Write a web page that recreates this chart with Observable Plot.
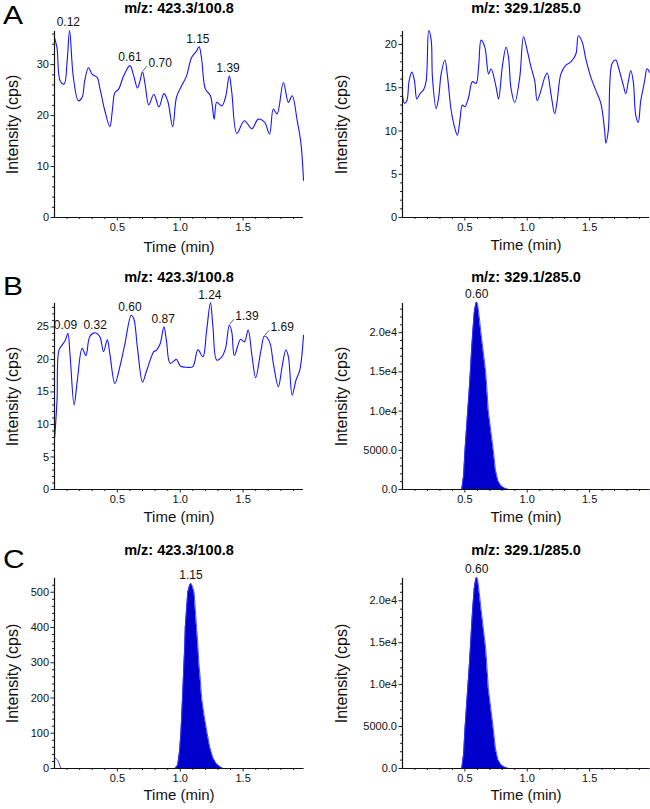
<!DOCTYPE html>
<html>
<head>
<meta charset="utf-8">
<script src="https://cdn.jsdelivr.net/npm/d3@7"></script>
<script src="https://cdn.jsdelivr.net/npm/@observablehq/plot@0.6"></script>
<style>
  html, body { margin: 0; padding: 0; background: #fff; }
  #page { position: relative; width: 650px; height: 809px; overflow: hidden; font-family: "Liberation Sans", Arial, sans-serif; color: #111; }
  .slot { position: absolute; }
  .letter { position: absolute; font-size: 25px; line-height: 28px; transform: scaleX(1.2); transform-origin: left top; color: #000; }
</style>
</head>
<body>
<div id="page"></div>
<script>
// ---------- DATA ----------
const panelLetters = ["A", "B", "C"];
const titleLeft = "m/z: 423.3/100.8";
const titleRight = "m/z: 329.1/285.0";
const xLabel = "Time (min)";
const yLabel = "Intensity (cps)";
const xTickValues = [0.5, 1.0, 1.5];

// Panel A, left (m/z 423.3/100.8) – noise trace
const aLeftTime = [0, 0.02, 0.045, 0.077, 0.10, 0.12, 0.15, 0.19, 0.22, 0.24, 0.27, 0.30, 0.34, 0.36, 0.40, 0.44, 0.46, 0.48, 0.51, 0.55, 0.60, 0.63, 0.66, 0.68, 0.70, 0.72, 0.75, 0.79, 0.83, 0.87, 0.90, 0.94, 0.97, 1.01, 1.05, 1.09, 1.13, 1.15, 1.17, 1.20, 1.24, 1.27, 1.29, 1.33, 1.36, 1.39, 1.41, 1.45, 1.51, 1.57, 1.62, 1.67, 1.71, 1.74, 1.77, 1.82, 1.86, 1.89, 1.93, 1.96, 1.98];
const aLeftInt  = [35.3, 33.3, 26.8, 26.2, 30.5, 36.7, 27.5, 22.9, 23.6, 26.8, 29.4, 28.1, 27.5, 25.5, 21.0, 17.8, 21.0, 24.5, 25.2, 27.8, 29.8, 27.8, 25.4, 26.8, 28.6, 26.2, 22.1, 24.2, 21.7, 24.3, 22.9, 17.8, 23.6, 25.8, 27.8, 31.4, 32.7, 33.5, 31.1, 25.2, 23.9, 19.3, 22.6, 21.9, 23.6, 27.8, 24.5, 16.5, 19.0, 17.4, 19.3, 18.7, 16.4, 21.3, 20.3, 26.5, 22.6, 23.9, 19.0, 14.5, 7.3];
const aLeftPeakTime  = [0.11, 0.60, 1.14, 1.38];
const aLeftPeakInt   = [36.7, 29.8, 33.5, 27.8];
const aLeftPeakText  = ["0.12", "0.61", "1.15", "1.39"];
const aLeftLeadTime  = [0.70];
const aLeftLeadInt   = [28.6];
const aLeftLeadText  = ["0.70"];

// Panel A, right (m/z 329.1/285.0) – noise trace
const aRightTime = [0, 0.016, 0.035, 0.053, 0.075, 0.096, 0.115, 0.14, 0.17, 0.19, 0.21, 0.23, 0.24, 0.27, 0.29, 0.31, 0.34, 0.36, 0.39, 0.42, 0.44, 0.46, 0.48, 0.50, 0.53, 0.56, 0.59, 0.61, 0.63, 0.66, 0.69, 0.71, 0.75, 0.77, 0.80, 0.83, 0.85, 0.87, 0.90, 0.94, 0.97, 1.00, 1.03, 1.06, 1.08, 1.11, 1.14, 1.16, 1.19, 1.22, 1.24, 1.27, 1.31, 1.35, 1.39, 1.41, 1.44, 1.47, 1.51, 1.55, 1.59, 1.62, 1.63, 1.65, 1.68, 1.71, 1.73, 1.77, 1.79, 1.81, 1.83, 1.85, 1.87, 1.89, 1.91, 1.94, 1.96, 1.98];
const aRightInt  = [14.1, 13.2, 13.5, 15.8, 16.8, 15.8, 13.7, 14.3, 14.8, 15.8, 21.6, 20.5, 16.2, 12.6, 13.9, 16.6, 18.2, 16.4, 12.4, 10.3, 9.5, 11.2, 13.0, 12.8, 13.9, 15.7, 15.5, 17.4, 20.5, 19.7, 16.6, 17.2, 15.1, 13.7, 17.4, 19.7, 18.5, 14.9, 13.3, 16.2, 20.9, 19.3, 17.4, 15.8, 13.5, 14.7, 16.2, 16.7, 14.3, 12.0, 13.5, 16.6, 17.6, 18.0, 18.9, 21.0, 20.3, 18.3, 16.2, 14.7, 13.2, 10.1, 8.6, 10.1, 17.8, 18.2, 17.4, 15.3, 14.3, 15.7, 17.0, 15.7, 11.8, 11.0, 13.5, 15.7, 17.2, 16.8];

// Panel B, left – noise trace
const bLeftTime = [0.002, 0.02, 0.035, 0.06, 0.085, 0.106, 0.124, 0.156, 0.18, 0.22, 0.25, 0.28, 0.32, 0.36, 0.39, 0.42, 0.44, 0.48, 0.52, 0.56, 0.61, 0.63, 0.66, 0.70, 0.73, 0.79, 0.81, 0.84, 0.87, 0.89, 0.92, 0.97, 1.00, 1.05, 1.10, 1.14, 1.18, 1.21, 1.24, 1.26, 1.29, 1.33, 1.36, 1.39, 1.41, 1.43, 1.48, 1.51, 1.54, 1.57, 1.60, 1.64, 1.67, 1.71, 1.74, 1.78, 1.81, 1.84, 1.86, 1.89, 1.92, 1.95, 1.98];
const bLeftInt  = [8.1, 13.7, 21.4, 22.2, 22.9, 24.0, 20.6, 13.0, 16.5, 21.7, 20.6, 23.5, 24.1, 23.5, 21.2, 23.0, 20.9, 16.3, 18.9, 22.4, 26.8, 26.3, 21.7, 16.5, 18.1, 21.2, 21.4, 22.4, 25.0, 22.9, 19.4, 20.0, 19.0, 18.8, 18.9, 21.5, 20.4, 24.5, 28.7, 25.0, 19.9, 20.4, 21.7, 25.3, 24.2, 20.6, 23.1, 22.7, 24.5, 20.6, 17.2, 21.2, 23.6, 22.7, 19.4, 15.8, 18.9, 21.5, 20.4, 14.5, 16.8, 18.3, 23.7];
const bLeftPeakTime = [0.087, 0.323, 0.60, 0.865, 1.235];
const bLeftPeakInt  = [24.0, 24.1, 26.8, 25.0, 28.7];
const bLeftPeakText = ["0.09", "0.32", "0.60", "0.87", "1.24"];
const bLeftLeadTime = [1.39, 1.67];
const bLeftLeadInt  = [25.3, 23.6];
const bLeftLeadText = ["1.39", "1.69"];

// Panel B, right – internal standard peak
const bRightTime = [0, 0.475, 0.49, 0.501, 0.512, 0.523, 0.534, 0.544, 0.553, 0.563, 0.575, 0.587, 0.595, 0.603, 0.615, 0.629, 0.648, 0.667, 0.678, 0.688, 0.708, 0.728, 0.745, 0.765, 0.79, 0.82, 0.85, 1.98];
const bRightInt  = [0, 0, 1800, 5000, 7500, 10000, 12500, 15000, 17500, 20000, 22500, 23700, 23900, 23600, 22000, 20000, 17500, 15000, 12500, 10000, 7500, 5000, 2500, 1100, 450, 150, 0, 0];
const bRightPeakTime = [0.595];
const bRightPeakInt  = [23900];
const bRightPeakText = ["0.60"];

// Panel C, left – analyte peak (with a tiny trace at the start of the run)
const cLeftTime = [0, 0.03, 0.05, 0.96, 0.98, 0.995, 1.005, 1.012, 1.018, 1.024, 1.03, 1.036, 1.04, 1.05, 1.06, 1.075, 1.085, 1.095, 1.11, 1.12, 1.13, 1.14, 1.148, 1.16, 1.17, 1.19, 1.214, 1.235, 1.26, 1.29, 1.32, 1.34, 1.98];
const cLeftInt  = [32, 21, 0, 0, 10, 50, 100, 150, 200, 250, 300, 350, 400, 450, 500, 520, 525, 518, 500, 450, 400, 350, 300, 250, 200, 150, 100, 60, 30, 12, 4, 0, 0];
const cLeftPeakTime = [1.085];
const cLeftPeakInt  = [525];
const cLeftPeakText = ["1.15"];

// Panel C, right – internal standard peak
const cRightTime = [0, 0.475, 0.49, 0.501, 0.512, 0.523, 0.534, 0.544, 0.553, 0.563, 0.575, 0.587, 0.595, 0.603, 0.615, 0.629, 0.648, 0.667, 0.678, 0.688, 0.708, 0.728, 0.745, 0.765, 0.79, 0.82, 0.85, 1.98];
const cRightInt  = [0, 0, 1700, 4750, 7150, 9550, 11900, 14300, 16700, 19100, 21450, 22600, 22800, 22500, 21000, 19100, 16700, 14300, 11900, 9550, 7150, 4750, 2400, 1050, 430, 140, 0, 0];
const cRightPeakTime = [0.595];
const cRightPeakInt  = [22800];
const cRightPeakText = ["0.60"];

// Axis extents / ticks
const xMax = 1.98;
const aLeftYMax = 36.5,  aLeftYTicks = [0, 10, 20, 30],          aLeftYStep = 2;
const aRightYMax = 21.5, aRightYTicks = [0, 5, 10, 15, 20],      aRightYStep = 1;
const bLeftYMax = 28.6,  bLeftYTicks = [0, 5, 10, 15, 20, 25],   bLeftYStep = 1;
const bRightYMax = 23720, bRightYTicks = [0, 5000, 10000, 15000, 20000], bRightYStep = 1000;
const cLeftYMax = 539,   cLeftYTicks = [0, 100, 200, 300, 400, 500], cLeftYStep = 20;
const cRightYMax = 22650, cRightYTicks = [0, 5000, 10000, 15000, 20000], cRightYStep = 1000;

// ---------- RENDER ----------
const FONT = "'Liberation Sans', Arial, sans-serif";
const LINE_BLUE = "#1414ff";
const FILL_BLUE = "#0000cc";

const sciFormat = v => v === 0 ? "0.0" : v < 10000 ? v.toFixed(1) : d3.format(".1e")(v).replace("+", "");

function zip(ts, vs, txt) { return ts.map((t, i) => ({t, v: vs[i], text: txt ? txt[i] : null})); }

function panel(cfg) {
  const series = zip(cfg.time, cfg.int);
  const peaks = zip(cfg.peakTime || [], cfg.peakInt || [], cfg.peakText || []);
  const leads = zip(cfg.leadTime || [], cfg.leadInt || [], cfg.leadText || []);
  const yMinor = d3.range(0, cfg.yMax + 1e-9, cfg.yStep).filter(v => !cfg.yTicks.includes(v));
  const xMinor = d3.range(1, 20).map(i => i / 10).filter(v => v <= xMax && !xTickValues.some(t => Math.abs(t - v) < 1e-9));
  const marks = [];
  if (cfg.kind === "area") {
    // the filled peak region; the tiny trace at the very start of the run is drawn as a line only
    const peakPart = series.filter(d => d.t >= 0.4);
    marks.push(Plot.areaY(peakPart, {x: "t", y: "v", fill: FILL_BLUE, curve: "linear"}));
    marks.push(Plot.lineY(series, {x: "t", y: "v", stroke: "#3a3aff", strokeWidth: 0.9, curve: "linear"}));
  } else {
    marks.push(Plot.lineY(series, {x: "t", y: "v", stroke: LINE_BLUE, strokeWidth: 1.1, curve: "catmull-rom"}));
  }
  marks.push(
    Plot.axisY({ticks: yMinor, tickSize: 2, tickFormat: () => "", label: null, stroke: "#222"}),
    Plot.axisY({ticks: cfg.yTicks, tickSize: 3.5, tickPadding: 2, tickFormat: cfg.yFormat, label: null, fontSize: 11, stroke: "#222"}),
    Plot.axisX({ticks: xMinor, tickSize: 2, tickFormat: () => "", label: null, stroke: "#222"}),
    Plot.axisX({ticks: xTickValues, tickSize: 3.5, tickPadding: 2, tickFormat: d3.format(".1f"), label: null, fontSize: 11, stroke: "#222"}),
    Plot.ruleX([0], {stroke: "#111", strokeWidth: 1.2}),
    Plot.ruleY([0], {stroke: "#111", strokeWidth: 1.2}),
    Plot.text(peaks, {x: "t", y: "v", text: "text", dy: -8, lineAnchor: "middle", fontSize: 12, fill: "#111"}),
    Plot.link(leads, {x1: d => d.t + 0.004, y1: d => d.v + cfg.yMax * 0.005, x2: d => d.t + 0.035, y2: d => d.v + cfg.yMax * 0.03, stroke: "#333", strokeWidth: 0.8}),
    Plot.text(leads, {x: "t", y: "v", text: "text", dx: 6, dy: -9, textAnchor: "start", lineAnchor: "middle", fontSize: 12, fill: "#111"}),
    Plot.text([cfg.title], {text: d => d, frameAnchor: "top", dy: cfg.titleDy, lineAnchor: "middle", fontWeight: "bold", fontSize: 14.5, fill: "#000"}),
    Plot.text([xLabel], {text: d => d, frameAnchor: "bottom", dy: cfg.xLabelDy, lineAnchor: "middle", fontSize: 15, fill: "#111"}),
    Plot.text([yLabel], {text: d => d, frameAnchor: "left", rotate: -90, dx: cfg.yLabelDx, lineAnchor: "middle", textAnchor: "middle", fontSize: 16, fill: "#111"})
  );
  const svg = Plot.plot({
    width: 325,
    height: cfg.height,
    marginLeft: cfg.mLeft,
    marginRight: cfg.mRight,
    marginTop: cfg.mTop,
    marginBottom: cfg.mBottom,
    x: {domain: [0, xMax]},
    y: {domain: [0, cfg.yMax]},
    style: {fontFamily: FONT, fontSize: "11px", color: "#111", background: "transparent", overflow: "visible"},
    marks
  });
  const slot = document.createElement("div");
  slot.className = "slot";
  slot.style.left = cfg.left + "px";
  slot.style.top = cfg.top + "px";
  slot.appendChild(svg);
  document.getElementById("page").appendChild(slot);
}

const rows = [
  {top: 0,   height: 260, mTop: 31, mBottom: 43, titleDy: -23, xLabelDy: 30},
  {top: 260, height: 265, mTop: 43, mBottom: 36, titleDy: -26, xLabelDy: 28},
  {top: 530, height: 279, mTop: 48, mBottom: 41, titleDy: -28, xLabelDy: 27}
];
const leftCol  = {left: 0,   mLeft: 54, mRight: 22, yLabelDx: -42, title: titleLeft};
const rightCol = {left: 325, mLeft: 77, mRight: 1,  yLabelDx: -61, title: titleRight};

panel({...rows[0], ...leftCol, kind: "line", time: aLeftTime, int: aLeftInt, yMax: aLeftYMax, yTicks: aLeftYTicks, yStep: aLeftYStep, yFormat: d3.format("d"),
  peakTime: aLeftPeakTime, peakInt: aLeftPeakInt, peakText: aLeftPeakText, leadTime: aLeftLeadTime, leadInt: aLeftLeadInt, leadText: aLeftLeadText});
panel({...rows[0], ...rightCol, xLabelDy: 28, kind: "line", time: aRightTime, int: aRightInt, yMax: aRightYMax, yTicks: aRightYTicks, yStep: aRightYStep, yFormat: d3.format("d")});
panel({...rows[1], ...leftCol, kind: "line", time: bLeftTime, int: bLeftInt, yMax: bLeftYMax, yTicks: bLeftYTicks, yStep: bLeftYStep, yFormat: d3.format("d"),
  peakTime: bLeftPeakTime, peakInt: bLeftPeakInt, peakText: bLeftPeakText, leadTime: bLeftLeadTime, leadInt: bLeftLeadInt, leadText: bLeftLeadText});
panel({...rows[1], ...rightCol, kind: "area", time: bRightTime, int: bRightInt, yMax: bRightYMax, yTicks: bRightYTicks, yStep: bRightYStep, yFormat: sciFormat,
  peakTime: bRightPeakTime, peakInt: bRightPeakInt, peakText: bRightPeakText});
panel({...rows[2], ...leftCol, kind: "area", time: cLeftTime, int: cLeftInt, yMax: cLeftYMax, yTicks: cLeftYTicks, yStep: cLeftYStep, yFormat: d3.format("d"),
  peakTime: cLeftPeakTime, peakInt: cLeftPeakInt, peakText: cLeftPeakText});
panel({...rows[2], ...rightCol, kind: "area", time: cRightTime, int: cRightInt, yMax: cRightYMax, yTicks: cRightYTicks, yStep: cRightYStep, yFormat: sciFormat,
  peakTime: cRightPeakTime, peakInt: cRightPeakInt, peakText: cRightPeakText});

// Panel letters
const letterTops = [1, 271.5, 545];
panelLetters.forEach((L, i) => {
  const d = document.createElement("div");
  d.className = "letter";
  d.textContent = L;
  d.style.left = "3px";
  d.style.top = letterTops[i] + "px";
  document.getElementById("page").appendChild(d);
});
</script>
</body>
</html>
